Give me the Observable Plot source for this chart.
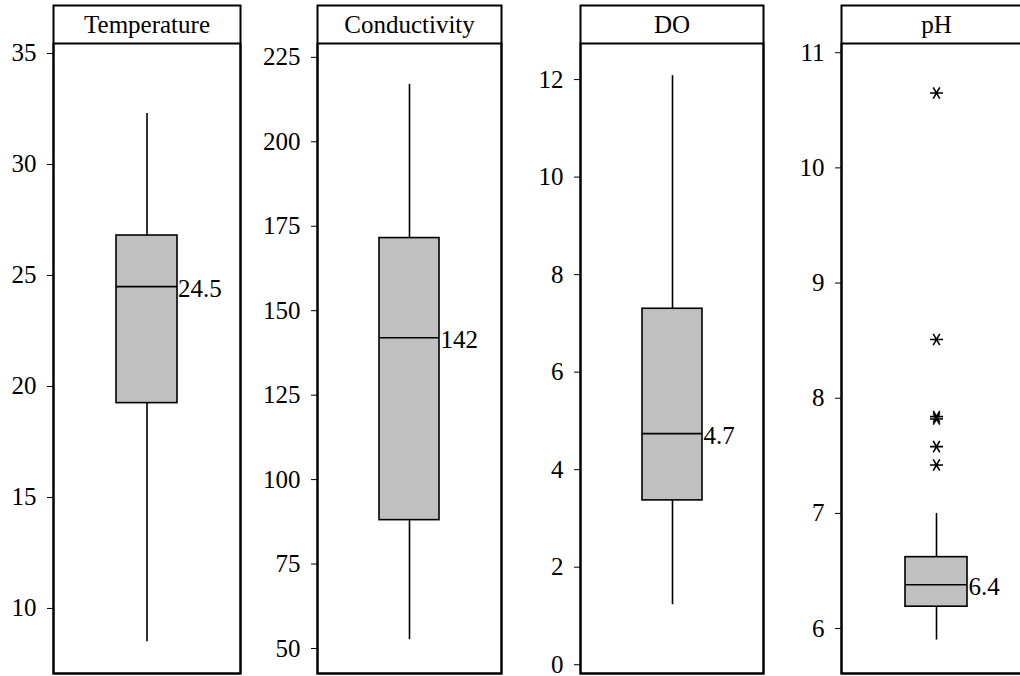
<!DOCTYPE html>
<html>
<head>
<meta charset="utf-8">
<script src="https://cdn.jsdelivr.net/npm/d3@7"></script>
<script src="https://cdn.jsdelivr.net/npm/@observablehq/plot@0.6"></script>
<style>
  html, body { margin: 0; padding: 0; background: white; overflow: hidden; }
  #chart { position: relative; width: 1020px; height: 676px; overflow: hidden; background: white; }
  #chart > div { position: absolute; top: 0; }
  #chart svg, #chart svg text { font-family: "Liberation Serif", Tinos, "Times New Roman", Times, "DejaVu Serif", serif !important; font-size: 25px; }
</style>
</head>
<body>
<div id="chart"></div>
<script>
// ---- data ----
const panels = ["Temperature", "Conductivity", "DO", "pH"];
const whiskerLow  = [8.5, 52.6, 1.23, 5.90];
const q1          = [19.25, 88, 3.37, 6.19];
const median      = [24.5, 142, 4.74, 6.38];
const q3          = [26.8, 171.5, 7.3, 6.62];
const whiskerHigh = [32.3, 217, 12.08, 7.0];
const medianLabels = ["24.5", "142", "4.7", "6.4"];
const phOutliers = [10.65, 8.51, 7.82, 7.84, 7.58, 7.42];
const yTicks = [
  [10, 15, 20, 25, 30, 35],
  [50, 75, 100, 125, 150, 175, 200, 225],
  [0, 2, 4, 6, 8, 10, 12],
  [6, 7, 8, 9, 10, 11]
];
const yDomains = [[7.07, 35.45], [42.6, 229.1], [-0.18, 12.74], [5.61, 11.08]];

// ---- layout ----
const panelLeft  = [53, 317, 580, 841];
const panelRight = [240, 501, 763, 1031];
const H = 676, marginTop = 43, marginBottom = 3, headerH = 38;
const font = '"Liberation Serif", Tinos, "Times New Roman", Times, "DejaVu Serif", serif';

const chart = document.getElementById("chart");
panels.forEach((name, i) => {
  const mL = i === 0 ? panelLeft[0] : 60;
  const mR = 4;
  const pw = panelRight[i] - panelLeft[i];
  const stats = [{name, lo: whiskerLow[i], q1: q1[i], med: median[i], q3: q3[i], hi: whiskerHigh[i], label: medianLabels[i]}];
  const outs = name === "pH" ? phOutliers.map(v => ({name, v})) : [];
  const plot = Plot.plot({
    width: mL + pw + mR,
    height: H,
    marginLeft: mL,
    marginRight: mR,
    marginTop,
    marginBottom,
    style: {fontFamily: font, fontSize: "25px", background: "transparent", color: "black", overflow: "visible"},
    x: {domain: [name], padding: 0.508, axis: null},
    y: {domain: yDomains[i], ticks: yTicks[i], tickSize: 6, tickPadding: 11, label: null, tickFormat: d => String(d)},
    marks: [
      Plot.ruleX(stats, {x: "name", y1: "q3", y2: "hi", stroke: "black", strokeWidth: 1.6}),
      Plot.ruleX(stats, {x: "name", y1: "lo", y2: "q1", stroke: "black", strokeWidth: 1.6}),
      Plot.barY(stats, {x: "name", y1: "q1", y2: "q3", fill: "#c0c0c0", stroke: "black", strokeWidth: 1.6}),
      Plot.tickY(stats, {x: "name", y: "med", stroke: "black", strokeWidth: 1.6}),
      Plot.text(stats, {x: "name", y: "med", text: "label", textAnchor: "start", dx: Math.round(pw * 0.163) + 1, dy: 2, fill: "black", fontFamily: font}),
      Plot.dot(outs, {x: "name", y: "v", symbol: "asterisk", r: 6.2, rotate: 90, stroke: "black", strokeWidth: 1.6}),
      Plot.frame({stroke: "black", strokeWidth: 2}),
      Plot.frame({stroke: "black", strokeWidth: 2, insetTop: -headerH}),
      Plot.text([name], {frameAnchor: "top", dy: -headerH / 2, lineAnchor: "middle", text: d => d, fill: "black", fontFamily: font})
    ]
  });
  plot.style.maxWidth = "none";
  const wrap = document.createElement("div");
  wrap.style.left = (panelLeft[i] - mL) + "px";
  wrap.appendChild(plot);
  chart.appendChild(wrap);
});
</script>
</body>
</html>
